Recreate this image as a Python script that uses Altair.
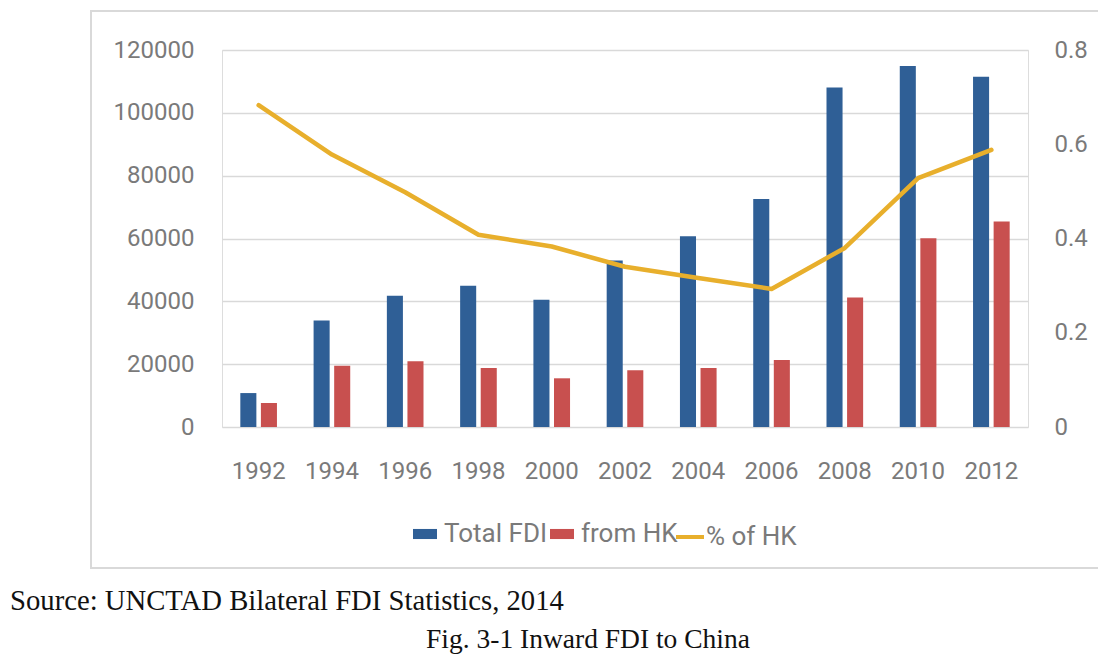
import altair as alt
import pandas as pd

years = ["1992", "1994", "1996", "1998", "2000", "2002", "2004", "2006", "2008", "2010", "2012"]
total_fdi = [10800, 33900, 41800, 45000, 40500, 53000, 60700, 72600, 108100, 114900, 111500]
from_hk = [7600, 19500, 20900, 18800, 15500, 18100, 18800, 21300, 41200, 60100, 65400]
pct_hk = [0.683, 0.578, 0.498, 0.408, 0.383, 0.340, 0.316, 0.293, 0.380, 0.528, 0.588]

series_names = ["Total FDI", "from HK"]
line_name = "% of HK"
left_ticks = [0, 20000, 40000, 60000, 80000, 100000, 120000]
right_ticks = [0, 0.2, 0.4, 0.6, 0.8]
source_text = "Source: UNCTAD Bilateral FDI Statistics, 2014"
caption_text = "Fig. 3-1 Inward FDI to China"

bar_rows = []
for i, y in enumerate(years):
    bar_rows.append({"year": y, "series": series_names[0], "value": total_fdi[i]})
    bar_rows.append({"year": y, "series": series_names[1], "value": from_hk[i]})
bar_df = pd.DataFrame(bar_rows)
line_df = pd.DataFrame({"year": years, "pct": pct_hk, "series": [line_name] * len(years)})

AX_FONT = "Roboto"
AX_COLOR = "#7A7A7A"

x_enc = alt.X(
    "year:N",
    sort=years,
    scale=alt.Scale(paddingInner=0.5, paddingOuter=0.25),
    axis=alt.Axis(title=None, labelAngle=0, labelPadding=32, domain=False, ticks=False,
                  tickSize=0, labelFontSize=24, labelColor=AX_COLOR, labelFont=AX_FONT),
)

bars = alt.Chart(bar_df).mark_bar().encode(
    x=x_enc,
    xOffset=alt.XOffset("series:N", sort=series_names,
                        scale=alt.Scale(domain=series_names, paddingInner=0.22)),
    y=alt.Y("value:Q", scale=alt.Scale(domain=[0, 120000]),
            axis=alt.Axis(title=None, values=left_ticks, format="d", labelFontSize=24,
                          labelColor=AX_COLOR, labelFont=AX_FONT, labelPadding=28,
                          grid=True, gridColor="#D9D9D9", gridWidth=1.5,
                          domain=False, ticks=False, tickSize=0)),
    color=alt.Color("series:N",
                    scale=alt.Scale(domain=series_names, range=["#2F5F96", "#C8504F"]),
                    legend=alt.Legend(orient="none", legendX=190, legendY=471,
                                      direction="horizontal", title=None,
                                      symbolType="M-1,-0.42H1V0.42H-1Z", symbolSize=576,
                                      symbolStrokeWidth=0, labelOffset=6, columnPadding=1,
                                      labelFontSize=26, labelColor=AX_COLOR, labelFont=AX_FONT)),
)

line = alt.Chart(line_df).mark_line(strokeWidth=4.5, strokeCap="round", strokeJoin="round").encode(
    x=alt.X("year:N", sort=years),
    y=alt.Y("pct:Q", scale=alt.Scale(domain=[0, 0.8]),
            axis=alt.Axis(title=None, orient="right", values=right_ticks, format="~g",
                          labelFontSize=24, labelColor=AX_COLOR, labelFont=AX_FONT,
                          labelPadding=26, grid=False, domain=False, ticks=False, tickSize=0)),
    stroke=alt.Stroke("series:N",
                      scale=alt.Scale(domain=[line_name], range=["#E8AF2C"]),
                      legend=alt.Legend(orient="none", legendX=452, legendY=471, title=None,
                                        symbolType="stroke", symbolSize=784,
                                        symbolStrokeWidth=4, labelOffset=0,
                                        labelFontSize=26, labelColor=AX_COLOR, labelFont=AX_FONT)),
)

one = pd.DataFrame({"k": [0]})
border = alt.Chart(one).mark_rect(fillOpacity=0, stroke="#D9D9D9", strokeWidth=2).encode(
    x=alt.value(-131), x2=alt.value(880), y=alt.value(-39), y2=alt.value(518)
)
src = alt.Chart(pd.DataFrame({"t": [source_text]})).mark_text(
    align="left", baseline="alphabetic", font="Liberation Serif", fontSize=28.7, color="#111111"
).encode(x=alt.value(-212), y=alt.value(560), text="t:N")
cap = alt.Chart(pd.DataFrame({"t": [caption_text]})).mark_text(
    align="center", baseline="alphabetic", font="Liberation Serif", fontSize=27.5, color="#111111"
).encode(x=alt.value(366), y=alt.value(598), text="t:N")

main = alt.layer(bars, line).resolve_scale(y="independent", color="independent")

chart = alt.layer(border, main, src, cap).properties(
    width=806, height=377,
    autosize=alt.AutoSizeParams(type="none"),
    padding={"left": 214, "top": 42, "right": 70, "bottom": 228},
).configure_view(stroke=None).configure(background="white")

chart.save("out.html", embed_options={"renderer": "svg", "actions": False})
